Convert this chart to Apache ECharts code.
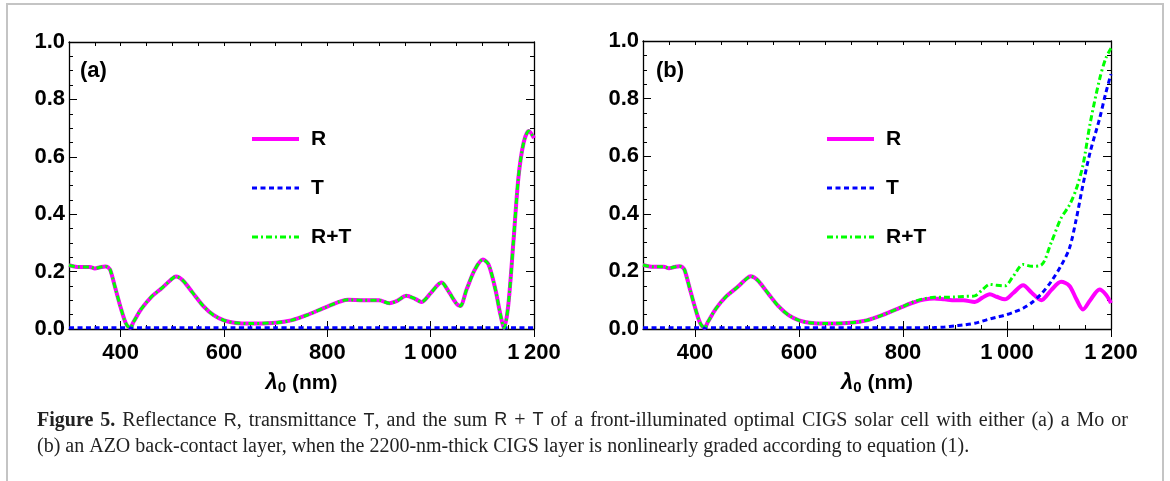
<!DOCTYPE html>
<html>
<head>
<meta charset="utf-8">
<script src="https://cdn.jsdelivr.net/npm/echarts@6/dist/echarts.min.js"></script>
<style>
    html, body { margin: 0; padding: 0; background: #fff; }
    #chart { width: 1170px; height: 481px; }
</style>
</head>
<body>
<div id="chart"></div>
<script>
// wavelengths (nm) and values
var wlA = [300, 310, 320, 330, 340, 350, 360, 370, 375, 380, 390, 400, 410, 418, 425, 440, 460, 480, 500, 507, 520, 540, 560, 580, 600, 620, 650, 700, 730, 760, 800, 840, 870, 900, 920, 935, 953, 970, 982, 1000, 1021, 1035, 1050, 1057, 1070, 1085, 1101, 1112, 1125, 1135, 1142, 1150, 1160, 1170, 1180, 1190, 1200];
var rA = [0.222, 0.218, 0.216, 0.216, 0.216, 0.211, 0.215, 0.218, 0.216, 0.205, 0.14, 0.075, 0.02, 0.004, 0.025, 0.07, 0.113, 0.143, 0.176, 0.183, 0.17, 0.125, 0.08, 0.048, 0.03, 0.022, 0.019, 0.022, 0.03, 0.048, 0.078, 0.102, 0.1, 0.1, 0.09, 0.098, 0.116, 0.105, 0.094, 0.125, 0.162, 0.13, 0.088, 0.08, 0.14, 0.205, 0.242, 0.225, 0.14, 0.05, 0.004, 0.08, 0.3, 0.53, 0.65, 0.69, 0.665];
var tA = [0.004, 0.004, 0.004, 0.004, 0.004, 0.004, 0.004, 0.004, 0.004, 0.004, 0.004, 0.004, 0.004, 0.004, 0.004, 0.004, 0.004, 0.004, 0.004, 0.004, 0.004, 0.004, 0.004, 0.004, 0.004, 0.004, 0.004, 0.004, 0.004, 0.004, 0.004, 0.004, 0.004, 0.004, 0.004, 0.004, 0.004, 0.004, 0.004, 0.004, 0.004, 0.004, 0.004, 0.004, 0.004, 0.004, 0.004, 0.004, 0.004, 0.004, 0.004, 0.004, 0.004, 0.004, 0.004, 0.004, 0.004];
var rtA = [0.222, 0.218, 0.216, 0.216, 0.216, 0.211, 0.215, 0.218, 0.216, 0.205, 0.14, 0.075, 0.02, 0.004, 0.025, 0.07, 0.113, 0.143, 0.176, 0.183, 0.17, 0.125, 0.08, 0.048, 0.03, 0.022, 0.019, 0.022, 0.03, 0.048, 0.078, 0.102, 0.1, 0.1, 0.09, 0.098, 0.116, 0.105, 0.094, 0.125, 0.162, 0.13, 0.088, 0.08, 0.14, 0.205, 0.242, 0.225, 0.14, 0.05, 0.004, 0.08, 0.3, 0.53, 0.65, 0.69, 0.665];

var wlB = [300, 310, 320, 330, 340, 350, 360, 370, 375, 380, 390, 400, 410, 418, 425, 440, 460, 480, 500, 507, 520, 540, 560, 580, 600, 620, 650, 700, 730, 760, 800, 820, 840, 860, 880, 900, 916, 938, 952, 967, 980, 996, 1012, 1031, 1048, 1066, 1085, 1104, 1120, 1133, 1146, 1160, 1178, 1190, 1200];
var rB = [0.222, 0.218, 0.216, 0.216, 0.216, 0.211, 0.215, 0.218, 0.216, 0.205, 0.14, 0.075, 0.02, 0.004, 0.025, 0.07, 0.113, 0.143, 0.176, 0.183, 0.17, 0.125, 0.08, 0.048, 0.03, 0.022, 0.019, 0.022, 0.03, 0.048, 0.078, 0.092, 0.102, 0.106, 0.103, 0.1, 0.1, 0.094, 0.108, 0.121, 0.112, 0.103, 0.125, 0.152, 0.125, 0.1, 0.135, 0.164, 0.15, 0.105, 0.068, 0.1, 0.137, 0.12, 0.09];
var tB = [0.004, 0.004, 0.004, 0.004, 0.004, 0.004, 0.004, 0.004, 0.004, 0.004, 0.004, 0.004, 0.004, 0.004, 0.004, 0.004, 0.004, 0.004, 0.004, 0.004, 0.004, 0.004, 0.004, 0.004, 0.004, 0.004, 0.004, 0.004, 0.004, 0.004, 0.004, 0.004, 0.004, 0.005, 0.007, 0.011, 0.014, 0.02, 0.027, 0.035, 0.041, 0.048, 0.058, 0.072, 0.092, 0.122, 0.165, 0.22, 0.28, 0.38, 0.5, 0.615, 0.73, 0.82, 0.885];
var rtB = [0.222, 0.218, 0.216, 0.216, 0.216, 0.211, 0.215, 0.218, 0.216, 0.205, 0.14, 0.075, 0.02, 0.004, 0.025, 0.07, 0.113, 0.143, 0.176, 0.183, 0.17, 0.125, 0.08, 0.048, 0.03, 0.022, 0.019, 0.022, 0.03, 0.048, 0.078, 0.094, 0.105, 0.11, 0.11, 0.111, 0.113, 0.115, 0.135, 0.155, 0.152, 0.15, 0.183, 0.224, 0.218, 0.222, 0.3, 0.385, 0.43, 0.485, 0.568, 0.715, 0.867, 0.94, 0.975];

var xMajorTicks = [400, 600, 800, 1000, 1200];

// caption words, first line is justified
var captionLine1 = ['{b|Figure}', '{b|5.}', 'Reflectance', '{s|R},', 'transmittance', '{s|T},', 'and', 'the', 'sum', '{s|R}', '+', '{s|T}', 'of', 'a', 'front-illuminated', 'optimal', 'CIGS', 'solar', 'cell', 'with', 'either', '(a)', 'a', 'Mo', 'or'];
var captionLine2 = '(b) an AZO back-contact layer, when the 2200-nm-thick CIGS layer is nonlinearly graded according to equation ({c|1}).';

var FONT = 'Liberation Sans';
var SERIF = 'Liberation Serif';
var CAP = 20;

function pairs(xs, ys) {
    return xs.map(function (x, i) { return [x, ys[i]]; });
}

var chart = echarts.init(document.getElementById('chart'), null, { renderer: 'canvas' });

var grids = [
    { left: 69, top: 42, width: 465, height: 287 },
    { left: 643, top: 41, width: 468, height: 288 }
];

var frameLine = { show: true, onZero: false, lineStyle: { color: '#000', width: 1.3 } };

function xAxesFor(gi) {
    var base = {
        gridIndex: gi, type: 'value', min: 300, max: 1200,
        splitLine: { show: false }, axisLine: frameLine
    };
    return [
        Object.assign({}, base, {
            position: 'bottom', interval: 50,
            axisTick: { inside: true, length: 4, lineStyle: { color: '#000', width: 1 } },
            axisLabel: {
                margin: 13, color: '#000', fontFamily: FONT, fontWeight: 'bold', fontSize: 22,
                formatter: function (v) {
                    if (v % 200 !== 0) return '';
                    return v >= 1000 ? '1\u2009' + String(v).slice(1) : String(v);
                }
            },
            name: '{l|λ}{s|0}{n| (nm)}', nameLocation: 'middle', nameGap: 42,
            nameTextStyle: {
                color: '#000', fontFamily: FONT, fontWeight: 'bold', fontSize: 21,
                rich: {
                    l: { fontFamily: FONT, fontStyle: 'italic', fontWeight: 'bold', fontSize: 22, lineHeight: 24 },
                    s: { fontFamily: FONT, fontWeight: 'bold', fontSize: 15, lineHeight: 15, verticalAlign: 'bottom' },
                    n: { fontFamily: FONT, fontWeight: 'bold', fontSize: 21, lineHeight: 24 }
                }
            }
        }),
        Object.assign({}, base, {
            position: 'bottom', axisLine: { show: false },
            axisTick: { inside: true, length: 8, customValues: xMajorTicks, lineStyle: { color: '#000', width: 1 } },
            axisLabel: { show: false }
        }),
        Object.assign({}, base, {
            position: 'top', interval: 50,
            axisTick: { inside: true, length: 4, lineStyle: { color: '#000', width: 1 } },
            axisLabel: { show: false }
        }),
        Object.assign({}, base, {
            position: 'top', axisLine: { show: false },
            axisTick: { inside: true, length: 8, customValues: xMajorTicks, lineStyle: { color: '#000', width: 1 } },
            axisLabel: { show: false }
        })
    ];
}

function yAxesFor(gi) {
    var base = {
        gridIndex: gi, type: 'value', min: 0, max: 1, interval: 0.2,
        splitLine: { show: false }, axisLine: frameLine,
        axisTick: { inside: true, length: 8, lineStyle: { color: '#000', width: 1 } },
        minorTick: { show: true, splitNumber: 4, length: 4, lineStyle: { color: '#000', width: 1 } }
    };
    return [
        Object.assign({}, base, {
            position: 'left',
            axisLabel: {
                margin: 4, color: '#000', fontFamily: FONT, fontWeight: 'bold', fontSize: 22,
                formatter: function (v) { return v.toFixed(1); }
            }
        }),
        Object.assign({}, base, { position: 'right', axisLabel: { show: false } })
    ];
}

var styleR = { color: '#ff00ff', width: 4 };
var styleT = { color: '#0000ff', width: 3, type: [5, 3.5] };
var styleRT = { color: '#00ff00', width: 3, type: [6, 3, 2, 3] };

function seriesFor(xi, yi, wl, r, t, rt) {
    return [
        {
            name: 'R', type: 'line', xAxisIndex: xi, yAxisIndex: yi, data: pairs(wl, r),
            symbol: 'none', smooth: 0.3, z: 3, lineStyle: styleR, itemStyle: { color: styleR.color }
        },
        {
            name: 'T', type: 'line', xAxisIndex: xi, yAxisIndex: yi, data: pairs(wl, t),
            symbol: 'none', smooth: 0.3, z: 4, lineStyle: styleT, itemStyle: { color: styleT.color }
        },
        {
            name: 'R+T', type: 'line', xAxisIndex: xi, yAxisIndex: yi, data: pairs(wl, rt),
            symbol: 'none', smooth: 0.3, z: 5, lineStyle: styleRT, itemStyle: { color: styleRT.color }
        }
    ];
}

function legendAt(left) {
    return {
        left: left, top: 128, orient: 'vertical', padding: 0,
        itemWidth: 47, itemHeight: 22, itemGap: 27, selectedMode: false,
        itemStyle: { opacity: 0 },
        data: [
            { name: 'R', lineStyle: styleR },
            { name: 'T', lineStyle: styleT },
            { name: 'R+T', lineStyle: styleRT }
        ],
        textStyle: {
            color: '#000', fontFamily: FONT, fontWeight: 'bold', fontSize: 21,
            lineHeight: 22, padding: [0, 0, 0, 7]
        }
    };
}

var captionRich = {
    b: { fontFamily: SERIF, fontWeight: 'bold', fontSize: CAP, color: '#222' },
    s: { fontFamily: FONT, fontSize: CAP - 2, color: '#222' },
    c: { fontFamily: SERIF, fontSize: CAP, color: '#2a7ab8' }
};
var captionFonts = {
    '': CAP + 'px "Liberation Serif"',
    b: 'bold ' + CAP + 'px "Liberation Serif"',
    s: (CAP - 2) + 'px "Liberation Sans"',
    c: CAP + 'px "Liberation Serif"'
};

// measure a rich-text word so that the first caption line can be justified
var measureCtx = document.createElement('canvas').getContext('2d');
function wordWidth(word) {
    var re = /\{(\w)\|([^}]*)\}|([^{]+)/g, m, w = 0;
    while ((m = re.exec(word)) !== null) {
        measureCtx.font = captionFonts[m[1] || ''];
        w += measureCtx.measureText(m[1] ? m[2] : m[3]).width;
    }
    return w;
}

function justifiedLine(words, x0, x1, top) {
    var widths = words.map(wordWidth);
    var total = widths.reduce(function (a, b) { return a + b; }, 0);
    var gap = (x1 - x0 - total) / (words.length - 1);
    var x = x0;
    return words.map(function (w, i) {
        var el = {
            type: 'text', x: x, y: top,
            style: { text: w, fill: '#222', fontFamily: SERIF, fontSize: CAP, rich: captionRich }
        };
        x += widths[i] + gap;
        return el;
    });
}

function build() {
    var options = {
        backgroundColor: '#fff',
        animation: false,
        grid: grids,
        xAxis: xAxesFor(0).concat(xAxesFor(1)),
        yAxis: yAxesFor(0).concat(yAxesFor(1)),
        legend: [legendAt(250), legendAt(825)],
        series: seriesFor(0, 0, wlA, rA, tA, rtA).concat(seriesFor(4, 2, wlB, rB, tB, rtB)),
        graphic: [
            {
                type: 'polyline', silent: true,
                shape: { points: [[7, 481], [7, 4], [1163, 4], [1163, 481]] },
                style: { stroke: '#c4c4c4', lineWidth: 2, fill: null }
            },
            {
                type: 'text', left: 80, top: 60,
                style: { text: '(a)', fill: '#000', font: 'bold 22px "Liberation Sans"' }
            },
            {
                type: 'text', left: 656, top: 60,
                style: { text: '(b)', fill: '#000', font: 'bold 22px "Liberation Sans"' }
            },
            {
                type: 'text', left: 37, top: 437,
                style: { text: captionLine2, fill: '#222', fontFamily: SERIF, fontSize: CAP, rich: captionRich }
            }
        ].concat(justifiedLine(captionLine1, 37, 1128, 411))
    };
    chart.setOption(options);
}

if (document.fonts && document.fonts.load) {
    Promise.all([
        document.fonts.load(captionFonts['']),
        document.fonts.load(captionFonts.b),
        document.fonts.load(captionFonts.s)
    ]).then(build, build);
} else {
    build();
}
</script>
</body>
</html>
